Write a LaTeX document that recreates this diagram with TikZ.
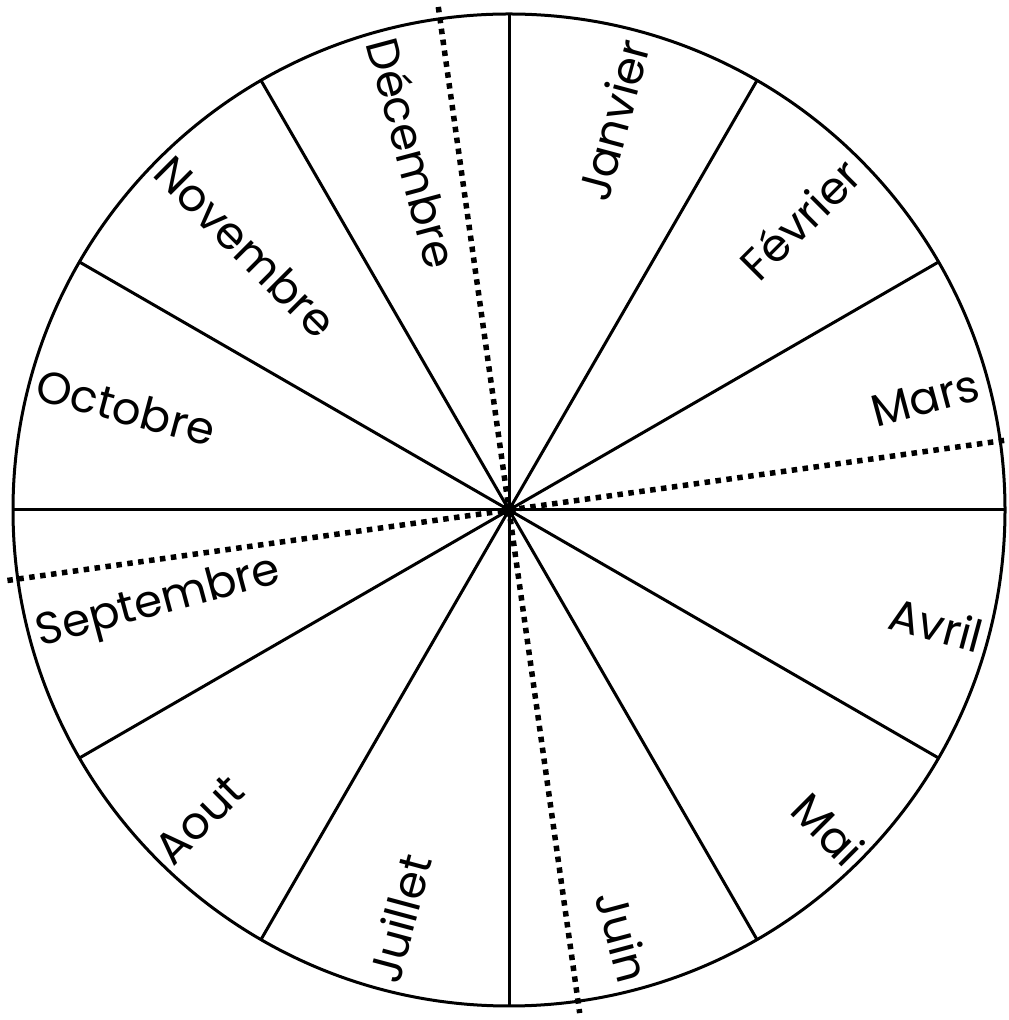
\documentclass[tikz,border=0pt]{standalone}
\usepackage{fontspec}
\setmainfont{Poppins}
\begin{document}
\begin{tikzpicture}[x=1pt,y=1pt,
  rim/.style={line width=3pt},
  spoke/.style={line width=3pt},
  fold/.style={line width=5.5pt, dash pattern=on 5.5pt off 5.5pt},
  mon/.style={inner sep=0pt, font=\fontsize{45}{45}\selectfont}]
\useasboundingbox (0,0) rectangle (1009,1020);
\coordinate (O) at (509,510);
\draw[rim] (O) circle (496);
\foreach \a in {0,30,...,330} \draw[spoke] (O) -- ++(\a:496);
\coordinate (f1) at ([shift={(98:508)}]O);
\coordinate (f2) at ([shift={(278:508)}]O);
\coordinate (f3) at ([shift={(8:500)}]O);
\coordinate (f4) at ([shift={(188:508)}]O);
\draw[fold] (f1) -- (f2);
\draw[fold] (f3) -- (f4);
\fill (O) circle (7);
% right half: text reads outward
\node[mon, rotate=75,  anchor=east] (jan) at ([shift={(75:486)}]O) {Janvier};
\node[mon, rotate=45,  anchor=east] (feb) at ([shift={(45:486)}]O) {Février};
\node[mon, rotate=15,  anchor=east] (mar) at ([shift={(15:486)}]O) {Mars};
\node[mon, rotate=-15, anchor=east] (apr) at ([shift={(-15:490)}]O) {Avril};
\node[mon, rotate=-45, anchor=east] (may) at ([shift={(-45:492)}]O) {Mai};
\node[mon, rotate=-75, anchor=east] (jun) at ([shift={(-75:488)}]O) {Juin};
% left half: text reads inward
\node[mon, rotate=75,  anchor=west] (jul) at ([shift={(-105:488)}]O) {Juillet};
\node[mon, rotate=45,  anchor=west] (aug) at ([shift={(-135:490)}]O) {Aout};
\node[mon, rotate=15,  anchor=west] (sep) at ([shift={(-165:488)}]O) {Septembre};
\node[mon, rotate=-15, anchor=west] (oct) at ([shift={(165:488)}]O) {Octobre};
\node[mon, rotate=-45, anchor=west] (nov) at ([shift={(135:490)}]O) {Novembre};
\node[mon, rotate=-75, anchor=west] (dec) at ([shift={(105:488)}]O) {Décembre};
\end{tikzpicture}
\end{document}
